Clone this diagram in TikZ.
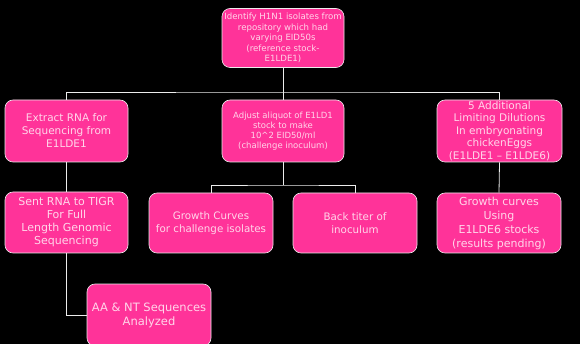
\documentclass[tikz,border=0pt]{standalone}
\usepackage{fontspec}
\setmainfont{DejaVu Sans}
\definecolor{boxpink}{HTML}{FF3399}
\definecolor{txtpink}{HTML}{FFD6EA}
\begin{document}
\begin{tikzpicture}[x=1pt,y=-1pt,
  box/.style={draw=white!85!gray, line width=0.6pt, fill=boxpink, rounded corners=8pt,
    text=txtpink, align=center, inner sep=1pt},
  wire/.style={draw=white!85!gray, line width=0.8pt}]
\fill[black] (0,0) rectangle (580,344);
\useasboundingbox (0,0) rectangle (580,344);
\clip (0,0) rectangle (580,344);
\node[box, minimum width=122pt, minimum height=59pt, font=\fontsize{8.6}{10.5}\selectfont] (top) at (283,38)
  {Identify H1N1 isolates from\\repository which had\\varying EID50s\\(reference stock-\\E1LDE1)};
\node[box, minimum width=123pt, minimum height=62pt, font=\fontsize{10.5}{13}\selectfont] (extract) at (66.5,131)
  {Extract RNA for\\Sequencing from\\E1LDE1};
\node[box, minimum width=122pt, minimum height=62pt, font=\fontsize{8.5}{10}\selectfont] (adjust) at (283,131)
  {Adjust aliquot of E1LD1\\stock to make\\10\^{}2 EID50/ml\\(challenge inoculum)};
\node[box, minimum width=125pt, minimum height=62pt, font=\fontsize{10.5}{12.5}\selectfont] (lim) at (499.5,131)
  {5 Additional\\Limiting Dilutions\\In embryonating\\chickenEggs\\(E1LDE1 -- E1LDE6)};
\node[box, minimum width=123pt, minimum height=61pt, font=\fontsize{11}{13}\selectfont] (sent) at (66.5,222.5)
  {Sent RNA to TIGR\\For Full\\Length Genomic\\Sequencing};
\node[box, minimum width=124pt, minimum height=60pt, font=\fontsize{10.3}{13}\selectfont] (growth) at (211,223)
  {Growth Curves\\for challenge isolates};
\node[box, minimum width=124pt, minimum height=60pt, font=\fontsize{10.3}{13}\selectfont] (back) at (355,223)
  {Back titer of\\inoculum};
\node[box, minimum width=124pt, minimum height=60pt, font=\fontsize{11}{14}\selectfont] (gc6) at (499,223)
  {Growth curves\\Using\\E1LDE6 stocks\\(results pending)};
\node[box, minimum width=124pt, minimum height=62pt, font=\fontsize{11.5}{14}\selectfont] (aa) at (149,315)
  {AA \& NT Sequences\\Analyzed};
\coordinate (hub) at (283,92);
\draw[wire] (top.south) -- (adjust.north);
\draw[wire] (extract.north) |- (hub) -| (lim.north);
\coordinate (mid) at (283,185);
\draw[wire] (adjust.south) -- (mid);
\draw[wire] (growth.north) |- (mid) -| (back.north);
\draw[wire] (extract.south) -- (sent.north);
\draw[wire] (lim.south) -- (gc6.north);
\draw[wire] (sent.south) |- (aa.west);
\end{tikzpicture}
\end{document}
